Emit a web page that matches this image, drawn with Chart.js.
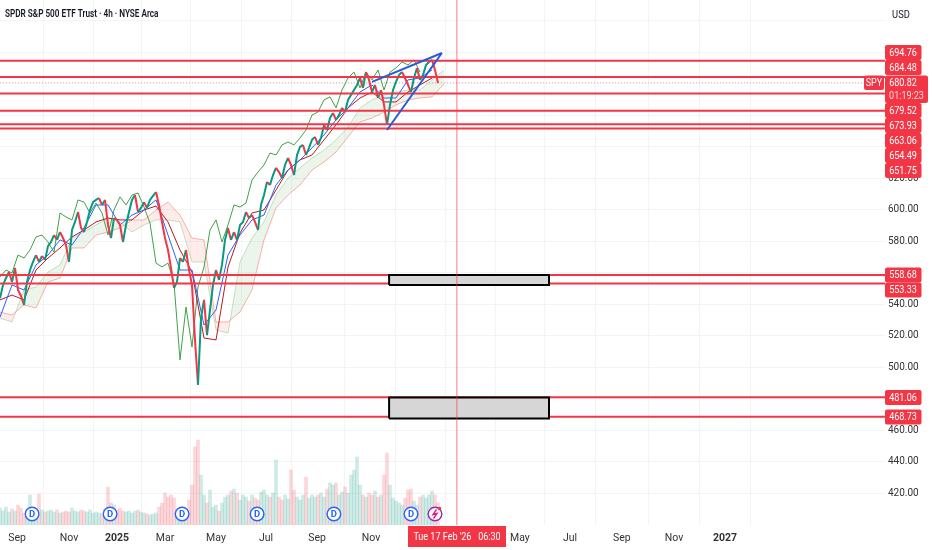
<!DOCTYPE html>
<html>
<head>
<meta charset="utf-8">
<title>SPY 4h</title>
<script src="https://cdn.jsdelivr.net/npm/chart.js@4/dist/chart.umd.min.js"></script>
<style>
html, body { margin: 0; padding: 0; background: #fff; }
#wrap { width: 932px; height: 550px; }
</style>
</head>
<body>
<div id="wrap"><canvas id="chart" width="932" height="550"></canvas></div>
<script>
// x axis unit: one step = one price sample (about 3 sessions)
const xTickSteps = [5.7, 23, 39, 55, 72, 88.7, 105.7, 123.7, 140, 156.7, 173.3, 190, 207.3, 224.7, 241.7];
const xTickLabels = ['Sep', 'Nov', '2025', 'Mar', 'May', 'Jul', 'Sep', 'Nov', '', '', 'May', 'Jul', 'Sep', 'Nov', '2027'];
const yTicks = [420, 440, 460, 480, 500, 520, 540, 560, 580, 600, 620, 640, 660, 680, 700, 720];
const yTickLabels = ['420.00', '440.00', '460.00', '', '500.00', '520.00', '540.00', '', '580.00', '600.00', '620.00', '', '', '', '', ''];

const price = [544, 552.4, 556.8, 560.6, 554.3, 563.2, 549.2, 545.4, 539.7, 554.3, 561.9, 567, 571.4, 567, 570.8, 568.3, 577.1, 579.7, 584.1, 581,
  586, 582.2, 577.8, 567, 587.3, 592.4, 598.7, 588.6, 586, 592.4, 600, 605, 606.4, 607.6, 603.2, 606.4, 590.5, 582.2, 594.9, 593.7,
  590.5, 579.7, 590.5, 598.7, 606.4, 609.5, 598.7, 601.3, 605, 601.3, 606.4, 608.9, 611.4, 603.2, 592.4, 582.2, 574.6, 563.2, 550.5, 554.3,
  569.5, 567, 574.6, 561.9, 552.4, 517.5, 488.9, 531.4, 542.9, 520.6, 536.5, 552.4, 561.9, 555.6, 565.1, 581, 588.6, 581, 586, 581,
  590.5, 592.4, 598.7, 594.9, 596.8, 592.4, 587.3, 603.2, 609.5, 617.8, 615.9, 622.2, 626.7, 624.1, 620.3, 628.6, 633, 628.6, 622.2, 634.9,
  640, 641.3, 634.9, 639.4, 644.5, 646.4, 641.3, 645.7, 654, 650.8, 658.4, 661.6, 657.2, 660.3, 664.8, 662.2, 669.9, 673, 676.2, 679.4,
  683.8, 677.5, 687.6, 682.6, 674.9, 679.4, 671.1, 676.2, 666.7, 654, 666.7, 676.2, 681.3, 685.7, 687.6, 683.8, 679.4, 674.9, 683.8, 690.2,
  682.6, 685.7, 692.1, 694, 695.3, 688.9, 680.6];

const volume = [17, 14, 18, 13, 16, 14, 20, 17, 12, 16, 30, 14, 15, 31, 15, 13, 14, 15, 13, 15,
  12, 13, 14, 13, 17, 14, 13, 15, 14, 13, 15, 12, 13, 12, 11, 16, 38, 22, 20, 15,
  17, 14, 13, 14, 12, 14, 15, 13, 12, 11, 10, 11, 12, 18, 22, 32, 28, 30, 27, 16,
  15, 18, 14, 25, 40, 78, 85, 50, 30, 22, 35, 18, 20, 14, 22, 28, 30, 34, 36, 32,
  25, 30, 28, 24, 30, 27, 25, 33, 35, 30, 28, 32, 65, 28, 25, 30, 26, 55, 35, 28,
  25, 30, 48, 27, 30, 28, 30, 32, 28, 36, 42, 40, 42, 30, 33, 38, 32, 50, 55, 68,
  40, 30, 28, 32, 30, 34, 28, 30, 50, 72, 40, 27, 24, 22, 20, 27, 35, 36, 24, 20,
  28, 30, 27, 30, 34, 30, 22];

// conversion and base lines, every 4 steps
const conversion = [532, 552.4, 549.2, 565.1, 571.4, 581, 577.8, 588.6, 603.2, 603.2, 590.5, 596.8, 600, 606.4, 584.1, 561.9, 561.9, 527, 536.5, 571.4,
  584.1, 593.7, 596.8, 615.9, 625.4, 631.8, 639.4, 647.6, 657.2, 664.8, 674.9, 679.4, 671.1, 671.1, 682.6, 683.8, 688.9];
const base = [542.9, 546, 542.9, 561.9, 569.5, 575.9, 582.9, 587.3, 592.4, 594.9, 593.7, 593.7, 600, 602.5, 592.4, 574.6, 560.6, 518.7, 517.5, 563.8,
  585.4, 598.1, 600, 612.7, 625.4, 631.8, 634.9, 644.5, 654, 664.8, 671.1, 674.9, 668.6, 668.6, 674.9, 679.4, 683.8];

// lagging span, every 2 steps
const lagging = [557.5, 561.9, 560, 571.4, 569.5, 574.6, 582.9, 584.1, 579.7, 573.3, 598.1, 595.6, 593.7, 606.4, 605, 598.1, 604.4, 598.1, 584.1, 600,
  608.3, 603.2, 609.5, 610.8, 601.9, 591.7, 566.3, 563.8, 566.3, 553.6, 504.8, 538.4, 513, 551.1, 563.8, 587.3, 593.7, 579.7, 590.5, 603.2,
  601.9, 604.4, 619, 624.1, 628.6, 636.2, 634.9, 641.3, 643.2, 641.3, 645.7, 650.8, 660.3, 662.2, 669.9, 671.8, 664.8, 676.2, 683.8, 687.6,
  677.5, 687.6, 682.6, 688.9, 676.2, 687.6, 690.2, 694, 692.1, 695.3, 687.6];

// cloud edges, every 4 steps, runs past the last bar
const spanA = [531.4, 528.9, 549.2, 551.1, 560.6, 565.1, 582.2, 586, 590.5, 594.9, 592.4, 586, 590.5, 593.7, 593.7, 592.4, 567, 567, 523.8, 521.9,
  567, 582.2, 592.4, 609.5, 620.3, 626.7, 633, 638.1, 644.5, 652.7, 664.8, 669.9, 673, 674.9, 676.2, 676.2, 682.6, 688.9];
const spanB = [535.2, 533.3, 539.7, 537.8, 554.3, 556.8, 575.9, 575.9, 584.1, 586, 588.6, 593.7, 593.7, 600, 605, 596.8, 582.2, 581, 528.9, 528.9,
  535.2, 549.2, 581, 601.3, 609.5, 615.9, 625.4, 630.5, 636.8, 646.4, 655.9, 658.4, 662.2, 666.7, 669.9, 671.1, 671.8, 680];

const levels = [694.76, 684.48, 673.93, 663.06, 654.49, 651.75, 558.68, 553.33, 481.06, 468.73];
const lastPrice = 680.82;
const wedgeUpper = [[124, 681.3], [147.3, 699.7]];
const wedgeLower = [[129, 650.8], [147.3, 699.7]];
const boxes = [[129.7, 183, 558.7, 552.4], [129.7, 183, 481, 467.6]];
const crosshairStep = 152.3;
const dividendSteps = [10.7, 36.7, 60.7, 85.7, 111.3, 137];
const earningsStep = 145;

const RED = '#F23645';
const GREEN = '#089981';
const FONT = 'Roboto, sans-serif';

const pts = (arr, stride) => arr.map((y, i) => ({ x: i * stride, y: y }));
const pairs = arr => arr.map(p => ({ x: p[0], y: p[1] }));

const datasets = [];

// cloud
datasets.push({
    data: pts(spanA, 4), borderColor: 'rgba(67,160,71,0.3)', borderWidth: 1, order: 90,
    fill: { target: '+1', above: 'rgba(67,160,71,0.1)', below: 'rgba(244,67,54,0.1)' }
});
datasets.push({ data: pts(spanB, 4), borderColor: 'rgba(244,67,54,0.4)', borderWidth: 1, order: 90 });

// volume, coloured by the direction of the price sample
datasets.push({
    type: 'bar', yAxisID: 'yVol', order: 95, barThickness: 3,
    data: pts(volume, 1),
    backgroundColor: volume.map((v, i) => (i === 0 || price[i] >= price[i - 1]) ? 'rgba(8,153,129,0.2)' : 'rgba(242,54,69,0.2)')
});

datasets.push({ data: pts(lagging, 2), borderColor: '#43A047', borderWidth: 1, order: 80 });
datasets.push({ data: pts(base, 4), borderColor: '#B71C1C', borderWidth: 1, order: 70 });
datasets.push({ data: pts(conversion, 4), borderColor: '#2962FF', borderWidth: 1, order: 60 });

datasets.push({
    data: pts(price, 1), borderWidth: 2, borderColor: GREEN, order: 50,
    segment: { borderColor: c => c.p1.parsed.y >= c.p0.parsed.y ? GREEN : RED }
});

// last price dotted line
datasets.push({ data: [{ x: 0, y: lastPrice }, { x: 295, y: lastPrice }], borderColor: 'rgba(242,54,69,0.45)', borderWidth: 1, borderDash: [1, 2], order: 45 });

// drawn levels
levels.forEach(v => {
    datasets.push({ data: [{ x: 0, y: v }, { x: 295, y: v }], borderColor: RED, borderWidth: 2, order: 40 });
});

// grey boxes
boxes.forEach(b => {
    datasets.push({
        data: [{ x: b[0], y: b[3] }, { x: b[0], y: b[2] }, { x: b[1], y: b[2] }, { x: b[1], y: b[3] }, { x: b[0], y: b[3] }],
        borderColor: '#000', borderWidth: 2, backgroundColor: '#D6D6D6', fill: 'shape', order: 30
    });
});

datasets.push({ data: pairs(wedgeUpper), borderColor: '#2A5BD7', borderWidth: 2, order: 20 });
datasets.push({ data: pairs(wedgeLower), borderColor: '#2A5BD7', borderWidth: 2, order: 20 });

// crosshair
datasets.push({ data: [{ x: crosshairStep, y: 400 }, { x: crosshairStep, y: 733.33 }], borderColor: 'rgba(242,54,69,0.65)', borderWidth: 1, order: 10 });

function tag(ctx, x, y, w, h, color) {
    ctx.fillStyle = color;
    ctx.beginPath();
    ctx.roundRect(x, y, w, h, 2);
    ctx.fill();
}

// the reference text is narrow, so squeeze it sideways
function squeezed(ctx, text, x, y, sx) {
    ctx.save();
    ctx.translate(x, y);
    ctx.scale(sx, 1);
    ctx.fillText(text, 0, 0);
    ctx.restore();
}

// title, price tags, dividend icons: the things TradingView paints on top
const overlayPlugin = {
    id: 'overlay',
    afterDraw(chart) {
        const ctx = chart.ctx;
        const xs = chart.scales.x;
        ctx.save();

        ctx.textBaseline = 'middle';
        ctx.textAlign = 'left';
        ctx.fillStyle = '#131722';
        ctx.font = '600 10.5px Roboto, sans-serif';
        squeezed(ctx, 'SPDR S&P 500 ETF Trust · 4h · NYSE Arca', 5, 14, 0.78);

        ctx.font = '11px ' + FONT;
        ctx.textAlign = 'center';
        squeezed(ctx, 'USD', 901, 15, 0.85);

        // right hand stack of tags
        const stack = [
            ['694.76', 52.5], ['684.48', 67.5], ['679.52', 110.5], ['673.93', 125.5],
            ['663.06', 140.5], ['654.49', 155.5], ['651.75', 170.5],
            ['558.68', 275], ['553.33', 290], ['481.06', 397.5], ['468.73', 417]
        ];
        stack.forEach(s => {
            tag(ctx, 885, s[1] - 7.5, 36.5, 15, RED);
            ctx.fillStyle = '#fff';
            squeezed(ctx, s[0], 903, s[1] + 0.5, 0.82);
        });
        tag(ctx, 885, 75.5, 43, 27.5, RED);
        ctx.fillStyle = '#fff';
        squeezed(ctx, lastPrice.toFixed(2), 903, 83, 0.82);
        ctx.fillStyle = 'rgba(255,255,255,0.8)';
        squeezed(ctx, '01:19:23', 906.5, 96, 0.82);
        tag(ctx, 864, 75.5, 20, 14.5, RED);
        ctx.fillStyle = '#fff';
        squeezed(ctx, 'SPY', 874, 83, 0.82);

        // crosshair date
        ctx.fillStyle = RED;
        ctx.fillRect(408, 526, 98, 21);
        ctx.fillStyle = '#fff';
        squeezed(ctx, "Tue 17 Feb '26   06:30", 457, 537, 0.82);

        // dividends
        dividendSteps.forEach(s => {
            const x = xs.getPixelForValue(s);
            ctx.beginPath();
            ctx.arc(x, 514, 6.8, 0, Math.PI * 2);
            ctx.fillStyle = '#fff';
            ctx.fill();
            ctx.lineWidth = 1.4;
            ctx.strokeStyle = '#2962FF';
            ctx.stroke();
            ctx.fillStyle = '#2962FF';
            ctx.font = '700 9.5px Roboto, sans-serif';
            ctx.fillText('D', x, 514.5);
        });

        // earnings bolt
        const ex = xs.getPixelForValue(earningsStep);
        ctx.beginPath();
        ctx.arc(ex, 514, 6.8, 0, Math.PI * 2);
        ctx.fillStyle = '#fff';
        ctx.fill();
        ctx.strokeStyle = '#9C27B0';
        ctx.lineWidth = 1.4;
        ctx.stroke();
        ctx.beginPath();
        ctx.moveTo(ex + 1.5, 509.5);
        ctx.lineTo(ex - 2, 514.5);
        ctx.lineTo(ex + 2, 513.5);
        ctx.lineTo(ex - 1.5, 518.5);
        ctx.strokeStyle = '#D81B8C';
        ctx.stroke();
        ctx.beginPath();
        ctx.arc(ex + 4.5, 508.5, 1.8, 0, Math.PI * 2);
        ctx.fillStyle = RED;
        ctx.fill();

        ctx.restore();
    }
};

new Chart(document.getElementById('chart').getContext('2d'), {
    type: 'line',
    data: { datasets: datasets },
    plugins: [overlayPlugin],
    options: {
        responsive: false,
        animation: false,
        events: [],
        layout: { padding: 0 },
        elements: { point: { radius: 0 }, line: { tension: 0 } },
        plugins: { legend: { display: false }, tooltip: { enabled: false }, title: { display: false } },
        scales: {
            x: {
                type: 'linear', min: 0, max: 295, offset: false,
                afterBuildTicks: axis => { axis.ticks = xTickSteps.map(v => ({ value: v })); },
                afterFit: axis => { axis.height = 25; axis.paddingLeft = 0; axis.paddingRight = 0; },
                grid: { color: '#F3F4F6', drawTicks: false },
                border: { display: false },
                ticks: {
                    autoSkip: false, maxRotation: 0, padding: 7, color: '#333',
                    font: c => ({ family: FONT, size: 10.5, weight: /^20/.test(xTickLabels[c.index]) ? '700' : '400' }),
                    callback: (v, i) => xTickLabels[i]
                }
            },
            y: {
                position: 'right', type: 'linear', min: 400, max: 733.33,
                afterBuildTicks: axis => { axis.ticks = yTicks.map(v => ({ value: v })); },
                afterFit: axis => { axis.width = 47; axis.paddingTop = 0; axis.paddingBottom = 0; },
                grid: { color: '#F3F4F6', drawTicks: false },
                border: { display: false },
                ticks: {
                    autoSkip: false, padding: 3, color: '#333',
                    font: { family: FONT, size: 10 },
                    callback: (v, i) => yTickLabels[i]
                }
            },
            yVol: { type: 'linear', min: 0, max: 525, display: false }
        }
    }
});
</script>
</body>
</html>
